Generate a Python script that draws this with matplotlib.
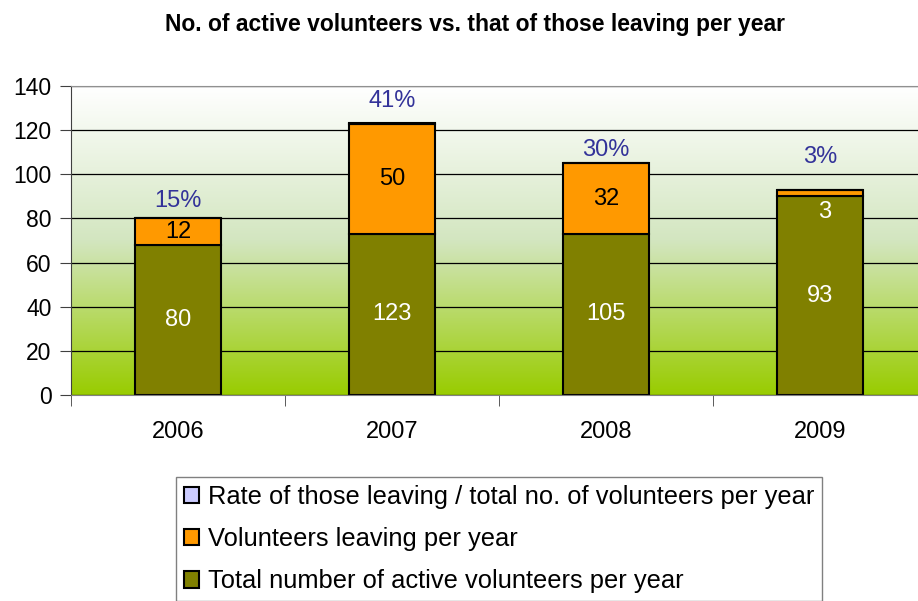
import numpy as np
import matplotlib.pyplot as plt
from matplotlib.colors import LinearSegmentedColormap

# values
years = ['2006', '2007', '2008', '2009']
total_active = [80, 123, 105, 93]     # label shown on the olive segment
leaving = [12, 50, 32, 3]             # orange segment
rate_pct = [15, 41, 30, 3]            # leaving / total, in %

plt.rcParams['font.family'] = ['Liberation Sans', 'DejaVu Sans']

fig = plt.figure(figsize=(9.18, 6.01), dpi=100)
# plot area runs off the right edge like in the original screenshot
ax = fig.add_axes([71 / 918, 1 - 395 / 601, 856 / 918, 309 / 601])

x = np.arange(len(years))
staying = [t - l for t, l in zip(total_active, leaving)]
rate_h = [r / 100 for r in rate_pct]
width = 0.4

# gradient background, green at the bottom fading to white
grad = LinearSegmentedColormap.from_list('bg', ['#99cc00', '#d3e6c0', '#ffffff'])
ax.imshow(np.linspace(0, 1, 256).reshape(-1, 1), extent=(-0.5, 3.5, 0, 140),
          origin='lower', aspect='auto', cmap=grad, zorder=0)

b1 = ax.bar(x, staying, width, color='#808000', edgecolor='black', lw=1.5, zorder=2)
b2 = ax.bar(x, leaving, width, bottom=staying, color='#ff9900',
            edgecolor='black', lw=1.5, zorder=2)
b3 = ax.bar(x, rate_h, width, bottom=total_active, color='#ccccff',
            edgecolor='black', lw=1.5, zorder=2)

for i in range(len(years)):
    ax.text(x[i], staying[i] / 2, str(total_active[i]), color='white',
            ha='center', va='center', fontsize=17, zorder=3)
    if leaving[i] >= 5:
        ax.text(x[i], staying[i] + leaving[i] / 2, str(leaving[i]), color='black',
                ha='center', va='center', fontsize=17, zorder=3)
    else:
        ax.text(x[i] + 0.02, staying[i] - 7, str(leaving[i]), color='white',
                ha='center', va='center', fontsize=17, zorder=3)

rate_gap = [8, 10, 6, 15]
for i in range(len(years)):
    ax.text(x[i], total_active[i] + rate_gap[i], f'{rate_pct[i]}%', color='#333399',
            ha='center', va='center', fontsize=17, zorder=3)

ax.set_xlim(-0.5, 3.5)
ax.set_ylim(0, 140)
ax.set_yticks(range(0, 141, 20))
ax.set_xticks(x)
ax.set_xticklabels(years)
ax.set_xticks(np.arange(-0.5, 4, 1), minor=True)
ax.tick_params(axis='x', which='major', length=0, pad=19, labelsize=17)
ax.tick_params(axis='x', which='minor', length=8, color='#404040', direction='out')
ax.tick_params(axis='y', length=8, color='#404040', pad=6, labelsize=16.5)

ax.set_axisbelow(True)
ax.yaxis.grid(True, color='black', lw=0.9)
ax.spines['top'].set_color('#909090')
ax.spines['right'].set_visible(False)
ax.spines['left'].set_color('#404040')
ax.spines['bottom'].set_color('#808080')

fig.text(0.517, 1 - 25 / 601, 'No. of active volunteers vs. that of those leaving per year',
         ha='center', va='center', fontsize=16.5, fontweight='bold')

fig.legend([b3, b2, b1],
           ['Rate of those leaving / total no. of volunteers per year',
            'Volunteers leaving per year',
            'Total number of active volunteers per year'],
           loc='upper left', bbox_to_anchor=(176 / 918, 1 - 477 / 601),
           fancybox=False, edgecolor='#808080', framealpha=1, fontsize=18.4,
           handlelength=0.6, handleheight=0.6, handletextpad=0.35,
           borderaxespad=0, labelspacing=0.72, borderpad=0.3)

fig.savefig('out.png', dpi=100)
